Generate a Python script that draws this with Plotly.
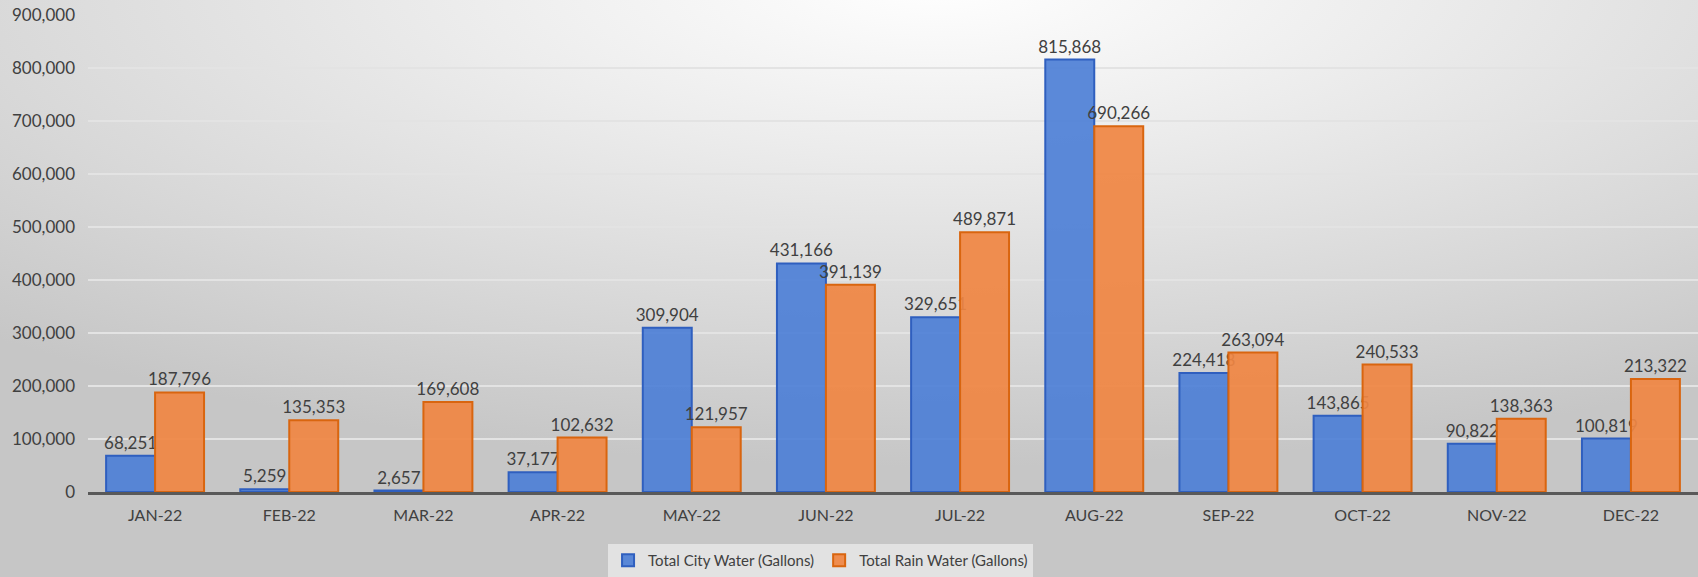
import base64
import plotly.graph_objects as go

months = ["JAN-22", "FEB-22", "MAR-22", "APR-22", "MAY-22", "JUN-22",
          "JUL-22", "AUG-22", "SEP-22", "OCT-22", "NOV-22", "DEC-22"]
city_water = [68251, 5259, 2657, 37177, 309904, 431166,
              329651, 815868, 224418, 143865, 90822, 100819]
rain_water = [187796, 135353, 169608, 102632, 121957, 391139,
              489871, 690266, 263094, 240533, 138363, 213322]
series_names = ["Total City Water (Gallons)", "Total Rain Water (Gallons)"]
y_ticks = [0, 100000, 200000, 300000, 400000, 500000, 600000, 700000, 800000, 900000]

FONT = "Lato, 'Open Sans', sans-serif"
TXT = "#404040"
W, H = 1698, 577
ML, MR, MT, MB = 88, 0, 15, 78

svg = """<svg xmlns='http://www.w3.org/2000/svg' width='1698' height='577' viewBox='0 0 1698 577' preserveAspectRatio='none'>
<defs><radialGradient id='g' cx='0.55' cy='0.0' r='0.8' fx='0.55' fy='0.0'>
<stop offset='0' stop-color='#ffffff'/><stop offset='0.35' stop-color='#ececec'/>
<stop offset='0.7' stop-color='#d8d8d8'/><stop offset='1' stop-color='#c6c6c6'/></radialGradient></defs>
<rect x='0' y='0' width='1698' height='577' fill='url(#g)'/></svg>"""
bg_uri = "data:image/svg+xml;base64," + base64.b64encode(svg.encode()).decode()

pw = W - ML - MR
ph = H - MT - MB
pad = 20

fig = go.Figure()
fig.add_trace(go.Bar(
    x=months, y=city_water, name=series_names[0],
    marker=dict(color="rgba(74,125,214,0.9)", line=dict(color="#2F5FBF", width=2)),
    text=[f"{v:,}" for v in city_water], textposition="outside", constraintext="none",
    textfont=dict(family=FONT, size=17, color=TXT), cliponaxis=False,
))
fig.add_trace(go.Bar(
    x=months, y=rain_water, name=series_names[1],
    marker=dict(color="rgba(240,133,66,0.92)", line=dict(color="#D9650F", width=2)),
    text=[f"{v:,}" for v in rain_water], textposition="outside", constraintext="none",
    textfont=dict(family=FONT, size=17, color=TXT), cliponaxis=False,
))

fig.update_layout(
    width=W, height=H,
    margin=dict(l=ML, r=MR, t=MT, b=MB),
    barmode="group", bargap=0.27, bargroupgap=0.0,
    uniformtext=dict(mode=False),
    paper_bgcolor="#cccccc", plot_bgcolor="rgba(0,0,0,0)",
    font=dict(family=FONT, size=15, color=TXT),
    images=[dict(source=bg_uri, xref="paper", yref="paper",
                 x=-(ML + pad) / pw, y=1 + (MT + pad) / ph,
                 sizex=(W + 2 * pad) / pw, sizey=(H + 2 * pad) / ph,
                 xanchor="left", yanchor="top", sizing="stretch", layer="below")],
    xaxis=dict(showgrid=False, showline=True, linecolor="#595959", linewidth=3,
               ticks="", tickfont=dict(family=FONT, size=16, color=TXT)),
    yaxis=dict(range=[0, 900000], tickvals=y_ticks,
               ticktext=[f"{v:,}" for v in y_ticks],
               showgrid=True, gridcolor="#e3e3e3", gridwidth=1.5,
               zeroline=False, showline=False, ticks="",
               ticklabeloverflow="allow",
               tickfont=dict(family=FONT, size=17, color=TXT)),
    legend=dict(orientation="h", x=0.455, xanchor="center", y=-0.109, yanchor="top",
                bgcolor="rgba(228,228,228,0.9)", font=dict(family=FONT, size=15, color=TXT),
                traceorder="normal"),
    showlegend=True,
)
fig.update_xaxes(ticklabelstandoff=7)
fig.update_yaxes(ticklabelstandoff=12)

fig.write_html("out.html", config={"displayModeBar": False},
               post_script="document.body.style.margin='0';document.body.style.overflow='hidden';")
